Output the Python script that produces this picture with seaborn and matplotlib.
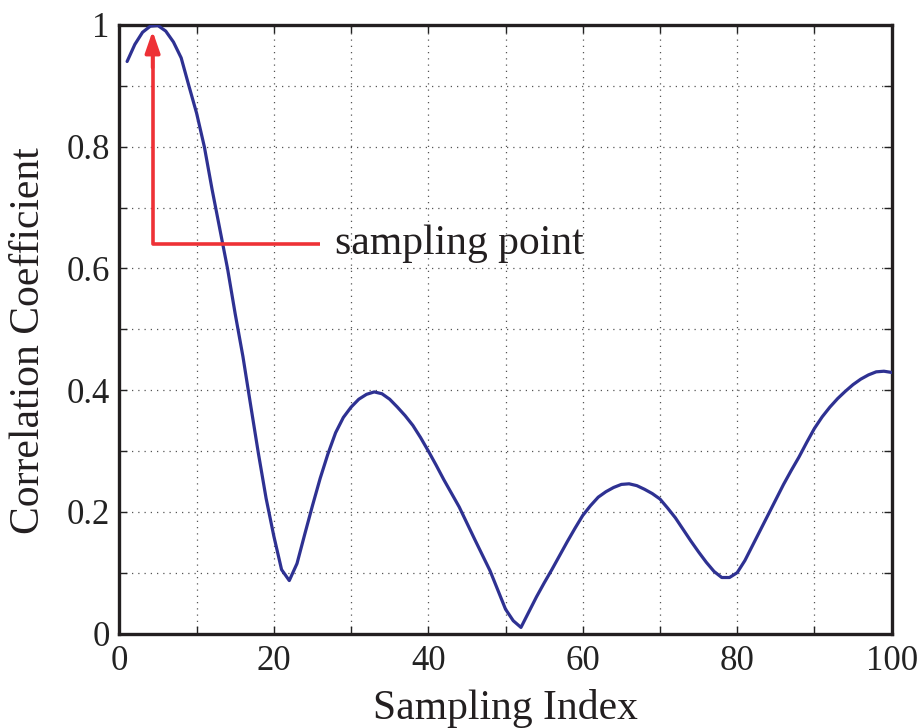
import numpy as np
import pandas as pd
import matplotlib
matplotlib.use("Agg")
import matplotlib.pyplot as plt
import seaborn as sns

# Data
sampling_index = [1, 2, 3, 4, 5, 6, 7, 8, 9, 10, 11, 12, 13, 14, 15, 16, 17, 18, 19, 20,
                  21, 22, 23, 24, 25, 26, 27, 28, 29, 30, 31, 32, 33, 34, 35, 36, 37, 38,
                  39, 40, 41, 42, 44, 46, 48, 50, 51, 52, 53, 54, 55, 56, 57, 58, 59, 60,
                  61, 62, 63, 64, 65, 66, 67, 68, 69, 70, 71, 72, 73, 74, 75, 76, 77, 78,
                  79, 80, 81, 82, 83, 84, 85, 86, 87, 88, 89, 90, 91, 92, 93, 94, 95, 96,
                  97, 98, 99, 100]
correlation = [0.940, 0.968, 0.988, 0.998, 0.999, 0.990, 0.972, 0.946, 0.900, 0.855,
               0.800, 0.730, 0.665, 0.600, 0.525, 0.455, 0.375, 0.296, 0.222, 0.160,
               0.105, 0.087, 0.115, 0.163, 0.210, 0.255, 0.295, 0.330, 0.355, 0.372,
               0.385, 0.393, 0.397, 0.394, 0.385, 0.372, 0.358, 0.342, 0.322, 0.300,
               0.277, 0.253, 0.208, 0.155, 0.103, 0.040, 0.021, 0.010, 0.035, 0.060,
               0.083, 0.105, 0.128, 0.151, 0.173, 0.194, 0.210, 0.224, 0.233, 0.240,
               0.245, 0.246, 0.243, 0.237, 0.230, 0.221, 0.206, 0.190, 0.171, 0.152,
               0.134, 0.117, 0.102, 0.092, 0.092, 0.100, 0.120, 0.145, 0.170, 0.195,
               0.220, 0.245, 0.268, 0.290, 0.314, 0.337, 0.356, 0.372, 0.386, 0.398,
               0.409, 0.418, 0.425, 0.430, 0.431, 0.429]

x_ticks = [0, 10, 20, 30, 40, 50, 60, 70, 80, 90, 100]
x_tick_labels = ["0", "", "20", "", "40", "", "60", "", "80", "", "100"]
y_ticks = [0, 0.1, 0.2, 0.3, 0.4, 0.5, 0.6, 0.7, 0.8, 0.9, 1.0]
y_tick_labels = ["0", "", "0.2", "", "0.4", "", "0.6", "", "0.8", "", "1"]

annotation_text = "sampling point"
arrow_x = 4.3
arrow_y_base = 0.64
arrow_y_tip = 0.99
line_end_x = 26.0

df = pd.DataFrame({"Sampling Index": sampling_index, "Correlation Coefficient": correlation})

sns.set_style("ticks")
plt.rcParams["font.family"] = ["Liberation Serif", "DejaVu Serif"]

fig = plt.figure(figsize=(9.24, 7.28), dpi=100)
ax = fig.add_axes([0.1292, 0.1298, 0.8358, 0.8359])

sns.lineplot(data=df, x="Sampling Index", y="Correlation Coefficient", ax=ax,
             color="#2E3192", linewidth=2.3, zorder=3)

ax.set_xlim(0, 100)
ax.set_ylim(0, 1)
ax.set_xticks(x_ticks)
ax.set_xticklabels(x_tick_labels)
ax.set_yticks(y_ticks)
ax.set_yticklabels(y_tick_labels)
ax.tick_params(direction="in", length=6, width=1.0, top=True, right=True,
               labelsize=25, colors="#222222", pad=7)
ax.tick_params(axis="x", pad=8)
ax.grid(True, linestyle=(0, (1, 4)), linewidth=0.9, color="#555555")
for s in ax.spines.values():
    s.set_linewidth(2.4)
    s.set_color("#231F20")
    s.set_visible(True)

ax.set_xlabel("Sampling Index", fontsize=30, color="#231F20", labelpad=8)
ax.set_ylabel("Correlation Coefficient", fontsize=30, color="#231F20", labelpad=10)
ax.yaxis.set_label_coords(-0.092, 0.482)

# red annotation
red = "#EE3136"
ax.plot([line_end_x, arrow_x, arrow_x], [arrow_y_base, arrow_y_base, arrow_y_tip - 0.04],
        color=red, linewidth=2.6, solid_capstyle="butt", zorder=4)
ax.annotate("", xy=(arrow_x, arrow_y_tip), xytext=(arrow_x, arrow_y_tip - 0.06),
            arrowprops=dict(arrowstyle="-|>,head_length=1.3,head_width=0.45",
                            color=red, lw=2.6, shrinkA=0, shrinkB=0), zorder=4)
ax.text(27.9, arrow_y_base, annotation_text, fontsize=30, color="#231F20",
        va="center", ha="left", zorder=5)

fig.savefig("out.png", dpi=100)
